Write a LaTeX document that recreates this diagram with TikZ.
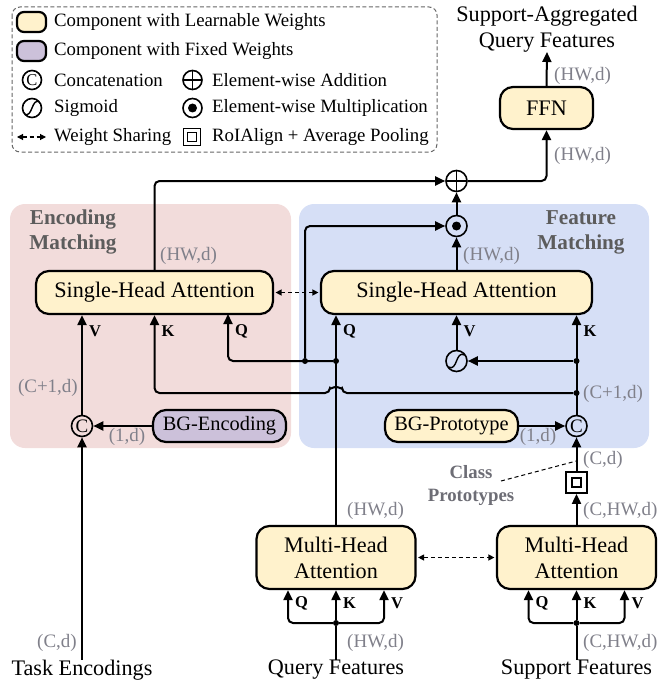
\documentclass[tikz,border=0pt]{standalone}
\usepackage{fontspec}
\setmainfont{Liberation Serif}
\usetikzlibrary{arrows.meta,calc,positioning}

\definecolor{learnfill}{RGB}{255,242,204}
\definecolor{fixedfill}{RGB}{204,193,218}
\definecolor{encbg}{RGB}{242,220,219}
\definecolor{featbg}{RGB}{214,223,246}
\definecolor{dimgray}{RGB}{128,128,138}
\definecolor{titlegray}{RGB}{92,92,92}

\newcommand\mainsz{\fontsize{22.2}{26}\selectfont}
\newcommand\legsz{\fontsize{18.8}{21}\selectfont}
\newcommand\dimsz{\fontsize{19}{21}\selectfont}
\newcommand\qkvsz{\fontsize{16.5}{18}\selectfont\bfseries}
\newcommand\regsz{\fontsize{21.2}{25}\selectfont\bfseries}

\tikzset{
  learn/.style={draw, line width=2.2pt, rounded corners=13pt, fill=learnfill, inner sep=0pt, align=center, font=\mainsz},
  fixed/.style={learn, fill=fixedfill},
  flow/.style={line width=2pt, rounded corners=5pt, -{Triangle[length=10pt,width=9pt]}},
  plain/.style={line width=2pt, rounded corners=5pt},
  share/.style={line width=1.3pt, dash pattern=on 4pt off 3pt, {Triangle[length=6pt,width=6pt]}-{Triangle[length=6pt,width=6pt]}, shorten <=1.5pt, shorten >=1.5pt},
  opnode/.style={circle, draw, line width=1.6pt, minimum size=21pt, inner sep=0pt},
  catop/.style={opnode, font=\fontsize{19}{19}\selectfont},
  addop/.style={opnode, path picture={\draw[line width=1.6pt] (path picture bounding box.north) -- (path picture bounding box.south) (path picture bounding box.west) -- (path picture bounding box.east);}},
  mulop/.style={opnode, path picture={\fill (path picture bounding box.center) circle (4.5pt);}},
  sigop/.style={opnode, path picture={\draw[line width=1.4pt] ($(path picture bounding box.center)+(-8,6)$) .. controls ($(path picture bounding box.center)+(1,11)$) and ($(path picture bounding box.center)+(-1,-11)$) .. ($(path picture bounding box.center)+(8,-6)$);}},
  pool/.style={draw, line width=1.8pt, minimum size=21pt, inner sep=0pt, fill=white, path picture={\draw[line width=1.6pt] ($(path picture bounding box.center)+(-4.5,-4.5)$) rectangle ($(path picture bounding box.center)+(4.5,4.5)$);}},
  jdot/.style={circle, fill, minimum size=6pt, inner sep=0pt},
  dimlab/.style={text=dimgray, font=\dimsz, inner sep=0pt},
  qkv/.style={font=\qkvsz, inner sep=0pt, anchor=west},
  regtitle/.style={text=titlegray, font=\regsz, align=center, inner sep=0pt},
  legtext/.style={anchor=west, inner sep=0pt, font=\legsz},
  plaintext/.style={font=\mainsz, inner sep=0pt, align=center},
}

\begin{document}
\begin{tikzpicture}[x=1pt,y=-1pt]
\useasboundingbox (0,0) rectangle (666,690);

% legend
\draw[line width=1pt, dash pattern=on 4pt off 2.5pt, gray!80!black, rounded corners=8pt] (12,7) rectangle (437,152);
\node[learn, minimum width=29pt, minimum height=20pt, rounded corners=7pt] (legLearn) at (31.5,22) {};
\node[legtext] (legLearnT) at (54,22) {Component with Learnable Weights};
\node[fixed, minimum width=29pt, minimum height=20pt, rounded corners=7pt] (legFixed) at (31.5,51) {};
\node[legtext] (legFixedT) at (54,51) {Component with Fixed Weights};
\node[catop, minimum size=19pt, font=\fontsize{16.5}{16.5}\selectfont] (legCat) at (32,80) {C};
\node[legtext] (legCatT) at (54,80) {Concatenation};
\node[sigop, minimum size=19pt] (legSig) at (32,108) {};
\node[legtext] (legSigT) at (54,108) {Sigmoid};
\coordinate (legShareA) at (17,137);
\coordinate (legShareB) at (46,137);
\draw[share, line width=1.1pt, shorten <=0pt, shorten >=0pt] (legShareA) -- (legShareB);
\node[legtext] (legShareT) at (54,137) {Weight Sharing};
\node[addop, minimum size=19pt] (legAdd) at (192.5,80) {};
\node[legtext] (legAddT) at (212,80) {Element-wise Addition};
\node[mulop, minimum size=19pt] (legMul) at (192.5,108) {};
\node[legtext] (legMulT) at (212,108) {Element-wise Multiplication};
\node[pool, minimum size=17pt] (legPool) at (192,137) {};
\node[legtext] (legPoolT) at (212,137) {RoIAlign + Average Pooling};

% matching regions
\fill[encbg, rounded corners=15pt] (10,204) rectangle (291,448);
\fill[featbg, rounded corners=15pt] (299,204) rectangle (649,448);
\node[regtitle] (encTitle) at (73,232) {Encoding\\Matching};
\node[regtitle] (featTitle) at (581,232) {Feature\\Matching};

% blocks
\node[learn, minimum width=237pt, minimum height=43pt] (shaE) at (154.5,292.5) {Single-Head Attention};
\node[learn, minimum width=271pt, minimum height=43pt] (shaF) at (456.5,292.5) {Single-Head Attention};
\node[learn, minimum width=159pt, minimum height=63pt] (mhaQ) at (336,557.5) {Multi-Head\\Attention};
\node[learn, minimum width=159pt, minimum height=63pt] (mhaS) at (576.5,557.5) {Multi-Head\\Attention};
\node[learn, minimum width=93pt, minimum height=42pt] (ffn) at (546.5,108) {FFN};
\node[fixed, minimum width=133pt, minimum height=32pt, font=\fontsize{20.4}{24}\selectfont] (bgE) at (219.5,426) {BG-Encoding};
\node[learn, minimum width=133pt, minimum height=32pt, font=\fontsize{20.4}{24}\selectfont] (bgF) at (451.5,426) {BG-Prototype};

% operators
\node[catop] (catE) at (82,426) {C};
\node[catop] (catF) at (576.5,426) {C};
\node[sigop] (sig) at (456.5,361) {};
\node[mulop] (mul) at (456.5,226) {};
\node[addop] (add) at (456.5,181) {};
\node[pool] (pool) at (576.5,482.5) {};

% inputs and output
\node[plaintext] (task) at (82,670) {Task Encodings};
\node[plaintext] (qfeat) at (336,670) {Query Features};
\node[plaintext] (sfeat) at (576.5,670) {Support Features};
\node[plaintext, anchor=south] (out) at (547,52) {Support-Aggregated\\Query Features};

% junctions
\coordinate (encQ) at (228,314);
\node[jdot] (qsplit) at (305,361) {};
\node[jdot] (qjoin) at (336,361) {};
\node[jdot] (sigsplit) at (576.5,361) {};
\node[jdot] (kjoin) at (576.5,393) {};
\node[jdot] (qin) at (336,623) {};
\node[jdot] (sin) at (576.5,623) {};

% multi-head attention inputs
\draw[plain] (qfeat.north) -- (qin);
\draw[plain] (sfeat.north) -- (sin);
\foreach \m/\j in {mhaQ/qin, mhaS/sin} {
  \draw[flow] (\j) -- ++(-48,0) -- ($(\m.south)+(-48,0)$);
  \draw[flow] (\j) -- (\m.south);
  \draw[flow] (\j) -- ++(48,0) -- ($(\m.south)+(48,0)$);
  \node[qkv] (\m-q) at ($(\m.south)+(-41,13)$) {Q};
  \node[qkv] (\m-k) at ($(\m.south)+(7,13)$) {K};
  \node[qkv] (\m-v) at ($(\m.south)+(55,13)$) {V};
}
\draw[share] (mhaQ.east) -- (mhaS.west);

% support branch
\draw[flow] (mhaS.north) -- (pool.south);
\draw[flow] (pool.north) -- (catF.south);
\draw[flow] (bgF.east) -- (catF.west);
\draw[flow] (catF.north) -- (catF.north |- shaF.south);
\draw[flow] (sigsplit) -- (sig.east);
\draw[flow] (sig.north) -- (sig.north |- shaF.south);
\node[regtitle, font=\fontsize{18.8}{23}\selectfont\bfseries, text=dimgray!85!black] (cproto) at (471,486) {Class\\Prototypes};
\draw[line width=1pt, dash pattern=on 4pt off 3pt] ($(cproto.center)+(30,-5)$) -- ($(pool.north)!0.3!(catF.south)$);

% query branch
\draw[flow] (mhaQ.north) -- (mhaQ.north |- shaF.south);
\draw[flow] (qjoin) -- (encQ |- qjoin) -- (encQ);
\draw[flow] (qsplit) -- (qsplit |- mul) -- (mul.west);

% encoding branch
\draw[flow] (task.north) -- (catE.south);
\draw[flow] (bgE.west) -- (catE.east);
\draw[flow] (catE.north) -- (catE.north |- shaE.south);
\draw[flow] (kjoin) -- ($(qjoin |- kjoin)+(6,0)$) arc[start angle=0, end angle=-180, radius=6] -- (shaE.south |- kjoin) -- (shaE.south);
\draw[share] (shaE.east) -- (shaF.west);

% outputs
\draw[flow] (shaF.north) -- (mul.south);
\draw[flow] (mul.north) -- (add.south);
\draw[flow] (shaE.north) -- (shaE.north |- add) -- (add.west);
\draw[flow] (add.east) -- (add -| ffn) -- (ffn.south);
\draw[flow] (ffn.north) -- (out.south);

% Q K V of single-head attention
\node[qkv] (encV) at (89,331) {V};
\node[qkv] (encK) at (161.5,331) {K};
\node[qkv] (encQl) at (235,331) {Q};
\node[qkv] (featQ) at (343,331) {Q};
\node[qkv] (featV) at (463.5,331) {V};
\node[qkv] (featK) at (583.5,331) {K};

% dimensions
\node[dimlab, anchor=west] (dimOut) at (554,76) {(HW,d)};
\node[dimlab, anchor=west] (dimAdd) at (554,156) {(HW,d)};
\node[dimlab, anchor=west] (dimShaE) at (160,256) {(HW,d)};
\node[dimlab, anchor=west] (dimShaF) at (463,256) {(HW,d)};
\node[dimlab, anchor=east] (dimCatE) at (78,388) {(C+1,d)};
\node[dimlab, anchor=west] (dimCatF) at (583,394) {(C+1,d)};
\node[dimlab] (dimBgE) at (127,437) {(1,d)};
\node[dimlab] (dimBgF) at (538,437) {(1,d)};
\node[dimlab, anchor=west] (dimPool) at (583,460) {(C,d)};
\node[dimlab, anchor=west] (dimMhaS) at (583,511) {(C,HW,d)};
\node[dimlab, anchor=west] (dimMhaQ) at (347,511) {(HW,d)};
\node[dimlab, anchor=west] (dimQin) at (347,643) {(HW,d)};
\node[dimlab, anchor=west] (dimSin) at (583,643) {(C,HW,d)};
\node[dimlab, anchor=east] (dimTask) at (77,643) {(C,d)};
\end{tikzpicture}
\end{document}
